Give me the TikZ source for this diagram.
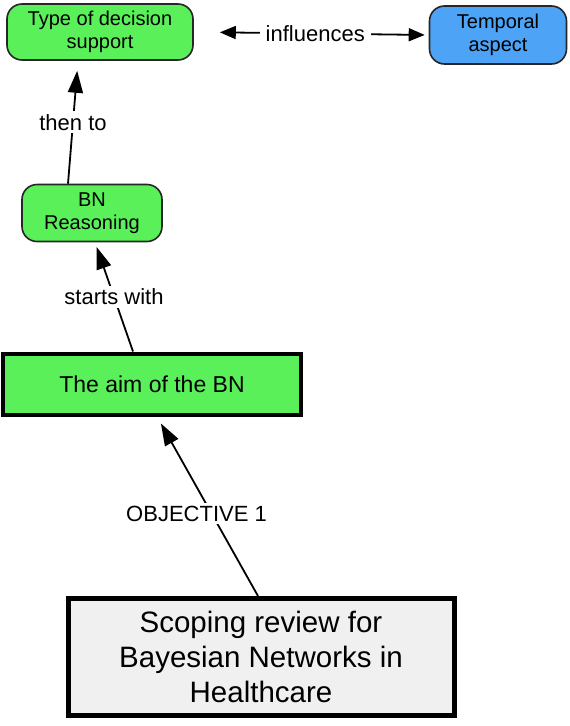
\documentclass[tikz,border=0pt]{standalone}
\usepackage{fontspec}
\setmainfont{Liberation Sans}
\usetikzlibrary{arrows.meta}
\definecolor{cgreen}{HTML}{5AF05A}
\definecolor{cblue}{HTML}{4DA3F5}
\definecolor{cgray}{HTML}{F0F0F0}
\tikzset{
  rbox/.style={draw=black!85, line width=1.6pt, rounded corners=15pt, align=center, inner sep=0pt, font=\fontsize{20}{23}\selectfont},
  thickbox/.style={draw=black, align=center, inner sep=0pt},
  tip/.tip={Triangle[length=22pt,width=15pt]},
  smalltip/.tip={Triangle[length=16pt,width=13pt]},
  conn/.style={line width=1.8pt, -tip},
  lbl/.style={fill=white, inner sep=3pt, font=\fontsize{22}{26}\selectfont}
}
\begin{document}
\begin{tikzpicture}[x=1pt,y=-1pt]
\useasboundingbox[fill=white] (0,0) rectangle (570,726);
\node[rbox, fill=cgreen, minimum width=186pt, minimum height=56pt] (tds) at (100,32) {Type of decision\\support};
\node[rbox, fill=cblue, minimum width=137pt, minimum height=58pt] (ta) at (498,35) {Temporal\\aspect};
\node[rbox, fill=cgreen, minimum width=140pt, minimum height=57pt] (bn) at (92,213) {BN\\Reasoning};
\node[thickbox, fill=cgreen, line width=4pt, minimum width=298pt, minimum height=61pt, font=\fontsize{23}{27}\selectfont] (aim) at (152,384) {The aim of the BN};
\node[thickbox, fill=cgray, line width=5pt, minimum width=386pt, minimum height=117pt, font=\fontsize{29.5}{35}\selectfont] (sr) at (261,657) {Scoping review for\\Bayesian Networks in\\Healthcare};

\draw[line width=1.8pt, smalltip-smalltip, shorten <=26pt, shorten >=4pt] (tds.east) -- (ta.west) node[lbl, midway, xshift=4pt, inner xsep=6pt] {influences};

\draw[conn, shorten >=10pt] ([xshift=-24pt]bn.north) -- node[lbl] {then to} ([xshift=-22pt]tds.south);
\draw[conn, shorten >=5pt] ([xshift=-19pt]aim.north) -- node[lbl] {starts with} ([xshift=3pt]bn.south);
\draw[conn, shorten >=8pt] ([xshift=-3pt]sr.north) -- node[lbl, pos=0.46, xshift=-15pt] {OBJECTIVE 1} ([xshift=5pt]aim.south);
\end{tikzpicture}
\end{document}
